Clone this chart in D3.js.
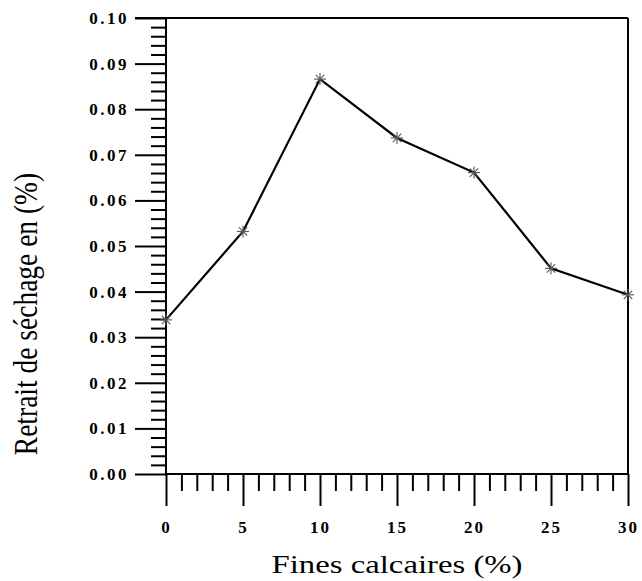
<!DOCTYPE html>
<html><head><meta charset="utf-8">
<script src="https://cdn.jsdelivr.net/npm/d3@7"></script>
<style>body{margin:0;background:#fff}</style>
</head><body><svg id="c" width="642" height="581"></svg>
<script>
const fines = [0, 5, 10, 15, 20, 25, 30];
const retrait = [0.0338, 0.0532, 0.0866, 0.0737, 0.0661, 0.0451, 0.0393];
const yMajor = [0, 0.01, 0.02, 0.03, 0.04, 0.05, 0.06, 0.07, 0.08, 0.09, 0.10];
const xMajor = [0, 5, 10, 15, 20, 25, 30];
const xTitle = "Fines calcaires (%)";
const yTitle = "Retrait de séchage en (%)";

const svg = d3.select("#c");
const x = d3.scaleLinear().domain([0, 30]).range([166, 628]);
const y = d3.scaleLinear().domain([0, 0.10]).range([474, 18]);
const yMinor = d3.range(0, 0.1001, 0.002).filter(v => Math.abs(v*100 - Math.round(v*100)) > 1e-6);
const xMinor = d3.range(0, 31, 1).filter(v => v % 5 !== 0);

const serif = "'Liberation Serif','Times New Roman',serif";

// y axis minor
svg.append("g").attr("transform", "translate(166,0)")
  .call(d3.axisLeft(y).tickValues(yMinor).tickSize(15).tickSizeOuter(0).tickFormat(""))
  .call(g => g.select(".domain").remove())
  .selectAll("line").attr("stroke", "#000").attr("stroke-width", 2);
// y axis major
const ya = svg.append("g").attr("transform", "translate(166,0)")
  .call(d3.axisLeft(y).tickValues(yMajor).tickSize(31).tickSizeOuter(0).tickPadding(6).tickFormat(d3.format(".2f")));
ya.select(".domain").remove();
ya.selectAll("line").attr("stroke", "#000").attr("stroke-width", 2);
ya.selectAll("text").attr("font-family", serif).attr("font-weight", "bold").attr("font-size", 17)
  .attr("letter-spacing", 2.5).attr("fill", "#000");

// x axis minor
svg.append("g").attr("transform", "translate(0,474)")
  .call(d3.axisBottom(x).tickValues(xMinor).tickSize(17).tickSizeOuter(0).tickFormat(""))
  .call(g => g.select(".domain").remove())
  .selectAll("line").attr("stroke", "#000").attr("stroke-width", 2);
const xa = svg.append("g").attr("transform", "translate(0,474)")
  .call(d3.axisBottom(x).tickValues(xMajor).tickSize(32).tickSizeOuter(0).tickPadding(15).tickFormat(d3.format("d")));
xa.select(".domain").remove();
xa.selectAll("line").attr("stroke", "#000").attr("stroke-width", 2);
xa.selectAll("text").attr("font-family", serif).attr("font-weight", "bold").attr("font-size", 17)
  .attr("letter-spacing", 2).attr("fill", "#000");

// frame
const fr = svg.append("g").attr("stroke", "#000").attr("stroke-width", 2);
fr.append("line").attr("x1", x(0)).attr("x2", x(0)).attr("y1", y(0.10)).attr("y2", y(0));
fr.append("line").attr("x1", x(0)).attr("x2", x(30)).attr("y1", y(0)).attr("y2", y(0));
fr.append("line").attr("x1", 135).attr("x2", x(30)).attr("y1", y(0.10)).attr("y2", y(0.10));
fr.append("line").attr("x1", x(30)).attr("x2", x(30)).attr("y1", y(0.10)).attr("y2", y(0));

// line
const pts = fines.map((f, i) => [f, retrait[i]]);
svg.append("path").datum(pts)
  .attr("d", d3.line().x(d => x(d[0])).y(d => y(d[1])))
  .attr("fill", "none").attr("stroke", "#000").attr("stroke-width", 2.2);

// asterisk markers
const star = svg.append("g").attr("stroke", "#555").attr("stroke-width", 1.1);
pts.forEach(d => {
  const cx = x(d[0]), cy = y(d[1]), r = 6;
  [0, 45, 90, 135].forEach(a => {
    const t = a * Math.PI / 180;
    star.append("line").attr("x1", cx - r*Math.cos(t)).attr("y1", cy - r*Math.sin(t))
      .attr("x2", cx + r*Math.cos(t)).attr("y2", cy + r*Math.sin(t));
  });
});

// titles
svg.append("text").attr("transform", "translate(397,573) scale(1.26,1)").attr("text-anchor", "middle")
  .attr("font-family", serif).attr("font-size", 26).attr("fill", "#000").text(xTitle);
svg.append("text").attr("transform", "translate(37,314) scale(1.2,1) rotate(-90)").attr("text-anchor", "middle")
  .attr("font-family", serif).attr("font-size", 27.5).attr("fill", "#000").text(yTitle);
</script></body></html>
